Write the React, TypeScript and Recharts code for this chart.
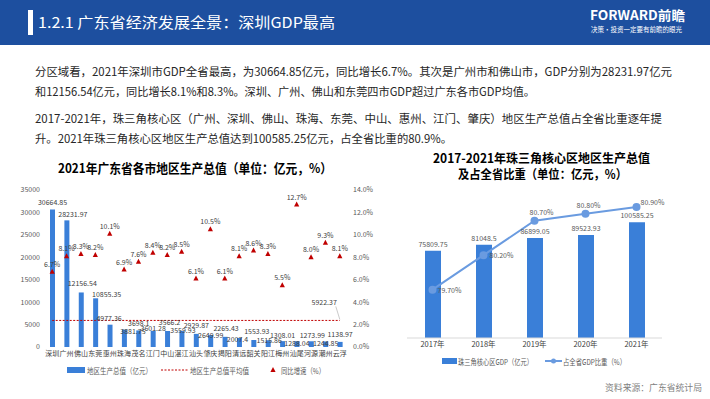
import React from "react";
import {
  Bar,
  ComposedChart,
  LabelList,
  Legend,
  Line,
  XAxis,
  YAxis,
} from "recharts";

const FONT = '"Noto Sans CJK SC", "Noto Sans", sans-serif';
const BLUE = "#3a7fd8";
const LINE_BLUE = "#6a9be0";
const RED = "#c00000";

// 2021 各市
const CITIES = ["深圳", "广州", "佛山", "东莞", "惠州", "珠海", "茂名", "江门", "中山", "湛江", "汕头", "肇庆", "揭阳", "清远", "韶关", "阳江", "梅州", "汕尾", "河源", "潮州", "云浮"];
const CITY_GDP = [30664.85, 28231.97, 12156.54, 10855.35, 4977.36, 3881.75, 3698.1, 3601.28, 3566.2, 3559.93, 2929.87, 2649.99, 2265.43, 2007.4, 1553.93, 1515.86, 1308.01, 1288.04, 1273.99, 1244.85, 1138.97];
const CITY_GROWTH = [6.7, 8.1, 8.3, 8.2, 10.1, 6.9, 7.6, 8.4, 8.2, 8.5, 6.1, 10.5, 6.1, 8.1, 8.6, 8.3, 5.5, 12.7, 8.0, 9.3, 8.1];
const CITY_GDP_AVG = 5922.37;
const GDP_TICKS = [0, 5000, 10000, 15000, 20000, 25000, 30000, 35000];
const GROWTH_TICKS = [0, 2, 4, 6, 8, 10, 12, 14];

// 珠三角核心区
const YEARS = ["2017年", "2018年", "2019年", "2020年", "2021年"];
const PRD_GDP = [75809.75, 81048.5, 86899.05, 89523.93, 100585.25];
const PRD_SHARE = [79.7, 80.2, 80.7, 80.8, 80.9];

const cityRows = CITIES.map((city, i) => ({
  city,
  gdp: CITY_GDP[i],
  growth: CITY_GROWTH[i],
  avg: CITY_GDP_AVG,
}));

const prdRows = YEARS.map((year, i) => ({
  year,
  gdp: PRD_GDP[i],
  share: PRD_SHARE[i],
}));

// hand-placed label nudges from the original (dx, dy from bar top centre)
const GDP_LABEL_SHIFT = [
  [0, -6.5], [6, -6], [1, -8.5], [11, -4], [-1, -6.5], [8.5, 1.5], [0, -7],
  [0, -2], [2, -8], [1, 0], [0, -8], [0, 0], [1, -8], [-2, 2],
  [3, -8], [1, 0], [0, -6], [0, 2], [1, -6], [0, 2], [0, -7],
];

const tri = (cx: number, cy: number, key?: any) => (
  <polygon
    key={key}
    points={`${cx},${cy - 3} ${cx - 2.6},${cy + 2} ${cx + 2.6},${cy + 2}`}
    fill={RED}
  />
);

const GdpLabel = (props: any) => {
  const { x, y, width, index, value } = props;
  const [dx, dy] = GDP_LABEL_SHIFT[index] || [0, -6];
  return (
    <text
      x={x + width / 2 + dx}
      y={y + dy}
      dy="0.35em"
      fontSize={7}
      fill="#404040"
      textAnchor="middle"
    >
      {value}
    </text>
  );
};

const LeftLegend = () => (
  <svg width={380} height={14} style={{ display: "block" }}>
    <rect x={67} y={4} width={18} height={6} fill={BLUE} />
    <text x={87} y={10.5} fontSize={8} fill="#595959" textLength={65} lengthAdjust="spacingAndGlyphs">地区生产总值（亿元）</text>
    <line x1={161} x2={188} y1={7} y2={7} stroke={RED} strokeDasharray="2 1.5" />
    <text x={190} y={10.5} fontSize={8} fill="#595959" textLength={59} lengthAdjust="spacingAndGlyphs">地区生产总值平均值</text>
    {tri(273, 7)}
    <text x={281} y={10.5} fontSize={8} fill="#595959" textLength={44} lengthAdjust="spacingAndGlyphs">同比增速（%）</text>
  </svg>
);

const RightLegend = () => (
  <svg width={330} height={14} style={{ display: "block" }}>
    <rect x={62} y={4} width={15} height={6} fill={BLUE} />
    <text x={78} y={10.5} fontSize={8} fill="#595959" textLength={75} lengthAdjust="spacingAndGlyphs">珠三角核心区GDP（亿元）</text>
    <line x1={165} x2={182} y1={7} y2={7} stroke={LINE_BLUE} strokeWidth={2} />
    <circle cx={173.5} cy={7} r={2.5} fill={LINE_BLUE} />
    <text x={183} y={10.5} fontSize={8} fill="#595959" textLength={63} lengthAdjust="spacingAndGlyphs">占全省GDP比重（%）</text>
  </svg>
);

// where each share label sits relative to its point
const SHARE_LABEL_POS = [
  { dx: 5, dy: 3, anchor: "start" },
  { dx: 6, dy: 3, anchor: "start" },
  { dx: 7, dy: -6, anchor: "middle" },
  { dx: 3, dy: -6, anchor: "middle" },
  { dx: 4, dy: -2, anchor: "start" },
];

const ShareLabel = (props: any) => {
  const { x, y, index, value } = props;
  const p = SHARE_LABEL_POS[index];
  return (
    <text x={x + p.dx} y={y + p.dy} fontSize={7} fill="#595959" textAnchor={p.anchor}>
      {`${Number(value).toFixed(2)}%`}
    </text>
  );
};

const AvgLabel = (props: any) => {
  const { x, y, index, value } = props;
  if (index !== CITIES.length - 1) return null;
  return (
    <g>
      <line x1={x - 4} y1={y - 14} x2={x} y2={y - 1} stroke="#a6a6a6" strokeWidth={0.6} />
      <text x={x - 3} y={y - 15} fontSize={7} fill="#404040" textAnchor="end">
        {value}
      </text>
    </g>
  );
};

const Texts = () => (
  <svg width={710} height={399} style={{ position: "absolute", left: 0, top: 0 }}>
    <rect x={0} y={0} width={710} height={45} fill="#1d4f9f" />
    <rect x={28} y={10} width={5} height={25} fill="#ffffff" />
    <text x={38} y={28} fontSize={15} fill="#ffffff" textLength={297} lengthAdjust="spacingAndGlyphs">
      1.2.1 广东省经济发展全景：深圳GDP最高
    </text>
    <text x={590} y={20} fontSize={13} fontWeight="bold" fill="#ffffff" textLength={95} lengthAdjust="spacingAndGlyphs">
      FORWARD前瞻
    </text>
    <text x={591} y={32} fontSize={7} fill="#ffffff" textLength={91} lengthAdjust="spacingAndGlyphs">
      决策·投资一定要有前瞻的眼光
    </text>

    <g fontSize={11.5} fill="#262626">
      <text x={35} y={76} textLength={637} lengthAdjust="spacingAndGlyphs">
        分区域看，2021年深圳市GDP全省最高，为30664.85亿元，同比增长6.7%。其次是广州市和佛山市，GDP分别为28231.97亿元
      </text>
      <text x={35} y={96} textLength={500} lengthAdjust="spacingAndGlyphs">
        和12156.54亿元，同比增长8.1%和8.3%。深圳、广州、佛山和东莞四市GDP超过广东各市GDP均值。
      </text>
      <text x={35} y={123} textLength={627} lengthAdjust="spacingAndGlyphs">
        2017-2021年，珠三角核心区（广州、深圳、佛山、珠海、东莞、中山、惠州、江门、肇庆）地区生产总值占全省比重逐年提
      </text>
      <text x={35} y={143} textLength={417} lengthAdjust="spacingAndGlyphs">
        升。2021年珠三角核心区地区生产总值达到100585.25亿元，占全省比重的80.9%。
      </text>
    </g>

    <g fontWeight="bold" fill="#000000">
      <text x={58} y={173} fontSize={13} textLength={274} lengthAdjust="spacingAndGlyphs">
        2021年广东省各市地区生产总值（单位：亿元，%）
      </text>
      <text x={433} y={163} fontSize={12.5} textLength={217} lengthAdjust="spacingAndGlyphs">
        2017-2021年珠三角核心区地区生产总值
      </text>
      <text x={458} y={179} fontSize={12.5} textLength={169} lengthAdjust="spacingAndGlyphs">
        及占全省比重（单位：亿元，%）
      </text>
    </g>

    <text x={605} y={391} fontSize={9} fill="#7f7f7f" textLength={97} lengthAdjust="spacingAndGlyphs">
      资料来源：广东省统计局
    </text>
  </svg>
);

export default function App() {
  return (
    <div
      style={{
        position: "absolute",
        left: 0,
        top: 0,
        width: 710,
        height: 399,
        background: "#ffffff",
        overflow: "hidden",
        fontFamily: FONT,
      }}
    >
      <Texts />

      <div style={{ position: "absolute", left: 0, top: 180 }}>
        <ComposedChart width={380} height={200} data={cityRows} margin={{ top: 10, right: 0, bottom: 3, left: 0 }}>
          <XAxis
            dataKey="city"
            interval={0}
            tickLine={false}
            axisLine={false}
            tickSize={2}
            tickMargin={2}
            height={16}
            tick={{ fontSize: 7, fill: "#404040" }}
          />
          <YAxis
            yAxisId="gdp"
            domain={[0, 35000]}
            ticks={GDP_TICKS}
            width={45}
            tickLine={false}
            axisLine={false}
            tickSize={3}
            tickMargin={2}
            tick={{ fontSize: 7, fill: "#595959" }}
          />
          <YAxis
            yAxisId="growth"
            orientation="right"
            domain={[0, 14]}
            ticks={GROWTH_TICKS}
            width={33}
            tickLine={false}
            axisLine={false}
            tickSize={4}
            tickMargin={2}
            tickFormatter={(v: number) => `${v.toFixed(1)}%`}
            tick={{ fontSize: 7, fill: "#595959", textAnchor: "start" }}
          />
          <Legend
            verticalAlign="bottom"
            wrapperStyle={{ left: 0, width: 380, height: 14 }}
            content={() => <LeftLegend />}
          />
          <Bar yAxisId="gdp" dataKey="gdp" fill={BLUE} barSize={5} isAnimationActive={false}>
            <LabelList dataKey="gdp" content={GdpLabel} />
          </Bar>
          <Line
            yAxisId="gdp"
            dataKey="avg"
            stroke={RED}
            strokeWidth={1}
            strokeDasharray="2 1.5"
            dot={false}
            activeDot={false}
            isAnimationActive={false}
          >
            <LabelList dataKey="avg" content={AvgLabel} />
          </Line>
          <Line
            yAxisId="growth"
            dataKey="growth"
            stroke="none"
            dot={(p: any) => tri(p.cx, p.cy, p.index)}
            activeDot={false}
            isAnimationActive={false}
          >
            <LabelList
              dataKey="growth"
              position="top"
              offset={5}
              fontSize={7}
              fill="#404040"
              formatter={(v: any) => `${Number(v).toFixed(1)}%`}
            />
          </Line>
        </ComposedChart>
      </div>

      <div style={{ position: "absolute", left: 380, top: 190 }}>
        <ComposedChart width={330} height={180} data={prdRows} margin={{ top: 10, right: 48, bottom: 2, left: 27 }}>
          <XAxis
            dataKey="year"
            tickLine={false}
            axisLine={{ stroke: "#d9d9d9" }}
            tickSize={2}
            tickMargin={2}
            height={16}
            tick={{ fontSize: 7.5, fill: "#404040" }}
          />
          <YAxis yAxisId="gdp" domain={[0, 120000]} hide />
          <YAxis yAxisId="share" orientation="right" domain={[79, 81]} hide />
          <Legend
            verticalAlign="bottom"
            wrapperStyle={{ left: 0, width: 330, height: 14 }}
            content={() => <RightLegend />}
          />
          <Bar yAxisId="gdp" dataKey="gdp" fill={BLUE} barSize={16} isAnimationActive={false}>
            <LabelList dataKey="gdp" position="top" offset={4} fontSize={7} fill="#595959" />
          </Bar>
          <Line
            yAxisId="share"
            dataKey="share"
            stroke={LINE_BLUE}
            strokeWidth={2}
            dot={{ r: 3, fill: LINE_BLUE, stroke: LINE_BLUE }}
            activeDot={false}
            isAnimationActive={false}
          >
            <LabelList dataKey="share" content={ShareLabel} />
          </Line>
        </ComposedChart>
      </div>
    </div>
  );
}
